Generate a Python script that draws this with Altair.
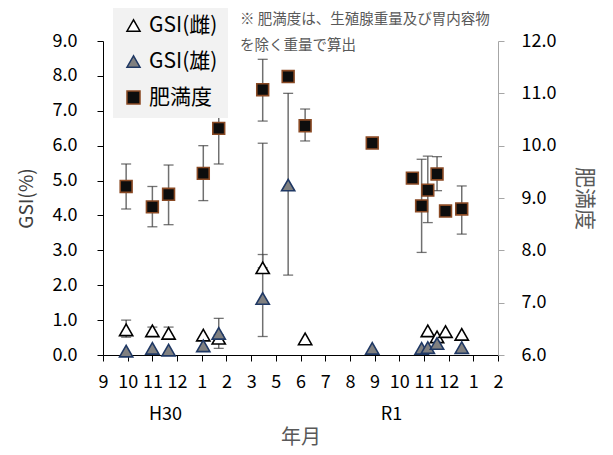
import altair as alt
import pandas as pd

FONT = "Noto Sans CJK JP"

# ---- data ----
dates = ["2018-10-20", "2018-11-23", "2018-12-14", "2019-01-28", "2019-02-17",
         "2019-04-15", "2019-05-18", "2019-06-09", "2019-09-04", "2019-10-26",
         "2019-11-07", "2019-11-15", "2019-11-27", "2019-12-08", "2019-12-29"]

female_gsi = [0.72, 0.69, 0.62, 0.57, 0.48, 2.50, None, 0.46, None, None, None, 0.69, 0.52, 0.67, 0.59]
female_lo = [0.51, 0.58, 0.52, None, 0.38, 2.50, None, None, None, None, None, None, None, None, None]
female_hi = [1.00, 0.80, 0.80, None, 0.58, 2.88, None, None, None, None, None, None, None, None, None]

male_gsi = [0.11, 0.19, 0.14, 0.26, 0.62, 1.62, 4.87, None, 0.19, None, 0.19, 0.21, 0.33, None, 0.21]
male_lo = [None, None, None, None, 0.19, 0.53, 2.29, None, None, None, None, None, None, None, None]
male_hi = [None, None, None, None, 1.05, 6.07, 7.50, None, None, None, None, None, None, None, None]

condition = [9.22, 8.83, 9.07, 9.47, 10.33, 11.07, 11.32, 10.38, 10.05, 9.38, 8.85, 9.15, 9.46, 8.75, 8.79]
condition_lo = [8.79, 8.45, 8.49, 8.95, 9.65, 10.47, None, 10.09, None, None, 7.96, 8.53, 9.14, None, 8.31]
condition_hi = [9.65, 9.22, 9.63, 10.00, 11.01, 11.65, None, 10.70, None, None, 9.74, 9.80, 9.79, None, 9.23]

series_names = ["GSI(雌)", "GSI(雄)", "肥満度"]
series_fill = ["white", "#808080", "#0d0d0d"]
series_stroke = ["black", "#1f3864", "#8a4a24"]
series_shape = ["triangle-up", "triangle-up", "square"]

tick_start = "2018-09-20"
tick_step_days = 32
tick_count = 17
era_labels = ["H30", "R1"]
era_dates = ["2018-12-10", "2019-09-29"]
note_lines = ["※ 肥満度は、生殖腺重量及び胃内容物", "を除く重量で算出"]

gsi_ticks = [0, 1, 2, 3, 4, 5, 6, 7, 8, 9]
cond_ticks = [6, 7, 8, 9, 10, 11, 12]

# ---- tables ----
rows = []
for i, d in enumerate(dates):
    for name, v, lo, hi in [(series_names[0], female_gsi, female_lo, female_hi),
                            (series_names[1], male_gsi, male_lo, male_hi)]:
        if v[i] is not None:
            rows.append(dict(date=d, series=name, value=v[i], lo=lo[i], hi=hi[i]))
gsi_df = pd.DataFrame(rows)
gsi_err = gsi_df.dropna(subset=["lo"])

cond_df = pd.DataFrame(dict(date=dates, series=series_names[2], value=condition,
                            lo=condition_lo, hi=condition_hi))
cond_err = cond_df.dropna(subset=["lo"])

era_df = pd.DataFrame(dict(date=era_dates, label=era_labels))

tick_dates = pd.date_range(tick_start, periods=tick_count, freq=f"{tick_step_days}D")


def dt(t):
    return alt.DateTime(year=int(t.year), month=int(t.month), date=int(t.day), utc=True)


x_scale = alt.Scale(type="utc", domain=[dt(tick_dates[0]), dt(tick_dates[-1])])
x_axis = alt.Axis(values=[dt(t) for t in tick_dates], format="%-m", title="年月",
                  labelFlush=False, labelOverlap=False, grid=False, tickSize=6,
                  labelPadding=12, labelFontSize=18, labelFont=FONT, labelColor="black",
                  domainColor="black", tickColor="black", titleFontSize=20,
                  titleFont=FONT, titleFontWeight="normal", titleColor="#595959",
                  titlePadding=36)


def xenc():
    return alt.X("date:T", scale=x_scale, axis=x_axis)


gsi_scale = alt.Scale(domain=[0, 9], nice=False, zero=False)
gsi_axis = alt.Axis(values=gsi_ticks, format=".1f", title="GSI(%)", orient="left",
                    grid=False, tickSize=6, labelPadding=20, labelFontSize=18,
                    labelFont=FONT, labelColor="black", domainColor="black",
                    tickColor="black", titleFontSize=19, titleFont=FONT,
                    titleFontWeight="normal", titleColor="#404040", titlePadding=16)

cond_scale = alt.Scale(domain=[6, 12], nice=False, zero=False)
cond_axis = alt.Axis(values=cond_ticks, format=".1f", title="肥満度", orient="right",
                     grid=False, tickSize=6, labelPadding=17, labelFontSize=18,
                     labelFont=FONT, labelColor="black", domainColor="#a6a6a6",
                     tickColor="#a6a6a6", titleFontSize=21, titleFont=FONT,
                     titleFontWeight="normal", titleColor="#595959", titlePadding=18)

legend = alt.Legend(title=None, orient="none", legendX=10, legendY=-36,
                    fillColor="#f2f2f2", padding=10, labelFontSize=21, labelFont=FONT,
                    labelColor="black", symbolSize=170, symbolStrokeWidth=1.5,
                    rowPadding=14, labelOffset=5)

fill_enc = alt.Fill("series:N", scale=alt.Scale(domain=series_names, range=series_fill), legend=legend)
stroke_enc = alt.Stroke("series:N", scale=alt.Scale(domain=series_names, range=series_stroke), legend=legend)
shape_enc = alt.Shape("series:N", scale=alt.Scale(domain=series_names, range=series_shape), legend=legend)

ERR = "#707070"
CAP = "#3a3a3a"


def group(df, err, field_scale, field_axis, size):
    rules = alt.Chart(err).mark_rule(color=ERR, strokeWidth=1.5).encode(
        x=xenc(), y=alt.Y("lo:Q", scale=field_scale, axis=field_axis), y2="hi:Q")
    cap_lo = alt.Chart(err).mark_tick(orient="horizontal", size=10, thickness=1.3, color=CAP).encode(
        x=xenc(), y=alt.Y("lo:Q", scale=field_scale, axis=field_axis))
    cap_hi = alt.Chart(err).mark_tick(orient="horizontal", size=10, thickness=1.3, color=CAP).encode(
        x=xenc(), y=alt.Y("hi:Q", scale=field_scale, axis=field_axis))
    pts = alt.Chart(df).mark_point(filled=True, size=size, strokeWidth=1.6, opacity=1).encode(
        x=xenc(), y=alt.Y("value:Q", scale=field_scale, axis=field_axis),
        fill=fill_enc, stroke=stroke_enc, shape=shape_enc)
    return [rules, cap_lo, cap_hi, pts]


era_text = alt.Chart(era_df).mark_text(fontSize=18, font=FONT, color="black",
                                       baseline="middle").encode(
    x=xenc(), y=alt.value(374), text="label:N")

note1 = alt.Chart(pd.DataFrame({"t": [note_lines[0]]})).mark_text(
    align="left", baseline="middle", fontSize=14.5, font=FONT, color="#595959").encode(
    x=alt.value(137), y=alt.value(-21), text="t:N")
note2 = alt.Chart(pd.DataFrame({"t": [note_lines[1]]})).mark_text(
    align="left", baseline="middle", fontSize=14.5, font=FONT, color="#595959").encode(
    x=alt.value(137), y=alt.value(5), text="t:N")

gsi_layer = alt.layer(*group(gsi_df, gsi_err, gsi_scale, gsi_axis, 175), era_text, note1, note2)
cond_layer = alt.layer(*group(cond_df, cond_err, cond_scale, cond_axis, 140))

chart = alt.layer(gsi_layer, cond_layer).resolve_scale(y="independent").properties(
    width=395, height=314,
    padding={"left": 95, "top": 33, "right": 104, "bottom": 96},
    autosize=alt.AutoSizeParams(type="none"),
).configure_view(stroke=None)

chart.save("out.html", embed_options={"renderer": "svg", "actions": False})
